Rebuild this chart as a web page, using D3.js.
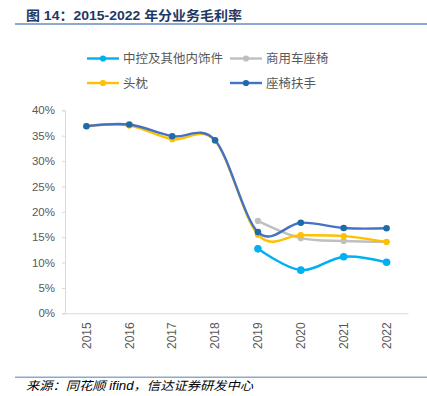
<!DOCTYPE html>
<html><head><meta charset="utf-8">
<script src="https://cdn.jsdelivr.net/npm/d3@7"></script>
<style>
html,body{margin:0;padding:0;background:#fff;}
svg{display:block;}
text{font-family:"Liberation Sans","Noto Sans CJK SC",Arial,sans-serif;}
</style></head>
<body>
<svg id="chart" width="427" height="396"></svg>
<script>
const years = ["2015","2016","2017","2018","2019","2020","2021","2022"];
const seriesNames = ["中控及其他内饰件","商用车座椅","头枕","座椅扶手"];
const interiorParts = [null,null,null,null,12.7,8.5,11.15,10.05];
const commercialSeats = [null,null,null,null,18.2,14.8,14.25,14.1];
const headrest = [36.9,37.0,34.3,34.0,15.5,15.4,15.2,14.05];
const armrest = [36.85,37.2,34.9,34.1,16.0,17.85,16.8,16.75];
const yTicks = [0,5,10,15,20,25,30,35,40];
const titleText = "图 14：2015-2022 年分业务毛利率";
const sourceText = "来源：同花顺 ifind，信达证券研发中心";

const styles = [
  {line:"#00B0F0", marker:"#00B0F0", r:3.8},
  {line:"#BFBFBF", marker:"#BFBFBF", r:3.1},
  {line:"#FFC000", marker:"#FFC000", r:3.1},
  {line:"#4472C4", marker:"#1F6BAA", r:3.3}
];
const allSeries = [interiorParts, commercialSeats, headrest, armrest];

const svg = d3.select("#chart");

// title
svg.append("text").attr("x",26).attr("y",19.5)
  .attr("font-size",13).attr("font-weight","bold").attr("fill","#1F3864")
  .attr("font-family","'Noto Sans CJK SC','Liberation Sans',sans-serif")
  .attr("textLength",216).attr("lengthAdjust","spacingAndGlyphs")
  .text(titleText);
svg.append("line").attr("x1",15).attr("x2",427).attr("y1",24).attr("y2",24)
  .attr("stroke","#8EA9D1").attr("stroke-width",2);

// scales
const x = d3.scaleBand().domain(years).range([65,408]);
const y = d3.scaleLinear().domain([0,40]).range([313.3,110.3]);
const cx = d => x(d) + x.bandwidth()/2;

// y axis
const yAxis = d3.axisLeft(y).tickValues(yTicks).tickFormat(d=>d+"%").tickSize(3).tickPadding(7);
const gy = svg.append("g").attr("transform","translate(65,0)").call(yAxis);
gy.select(".domain").attr("stroke","#D9D9D9");
gy.selectAll(".tick line").attr("stroke","#D9D9D9");
gy.selectAll(".tick text").attr("fill","#595959").attr("font-size",11.5)
  .attr("font-family","'Liberation Sans',Arial,sans-serif");

// x axis
const xAxis = d3.axisBottom(x).tickSize(0).tickPadding(0);
const gx = svg.append("g").attr("transform","translate(0,313.3)").call(xAxis);
gx.select(".domain").attr("stroke","#D9D9D9");
gx.selectAll(".tick text").attr("fill","#595959").attr("font-size",12)
  .attr("font-family","'Liberation Sans',Arial,sans-serif")
  .attr("transform","rotate(-90)").attr("text-anchor","end")
  .attr("x",-9).attr("y",0).attr("dy","0.35em");

// lines
const line = d3.line().defined(d=>d.v!==null).x(d=>cx(d.year)).y(d=>y(d.v))
  .curve(d3.curveCardinal.tension(0));
allSeries.forEach((vals,i)=>{
  const data = years.map((yr,j)=>({year:yr,v:vals[j]}));
  const defined = data.filter(d=>d.v!==null);
  svg.append("path").datum(defined).attr("d",line)
    .attr("fill","none").attr("stroke",styles[i].line).attr("stroke-width",2.4)
    .attr("stroke-linejoin","round").attr("stroke-linecap","round");
  svg.selectAll(null).data(defined).enter().append("circle")
    .attr("cx",d=>cx(d.year)).attr("cy",d=>y(d.v)).attr("r",styles[i].r)
    .attr("fill",styles[i].marker);
});

// legend
const legendPos = [
  {lx:87, ty:58.5},
  {lx:230, ty:58.5},
  {lx:87, ty:83},
  {lx:230, ty:83}
];
seriesNames.forEach((name,i)=>{
  const p = legendPos[i];
  const g = svg.append("g");
  g.append("line").attr("x1",p.lx).attr("x2",p.lx+32).attr("y1",p.ty).attr("y2",p.ty)
    .attr("stroke",styles[i].line).attr("stroke-width",2.4);
  g.append("circle").attr("cx",p.lx+16).attr("cy",p.ty).attr("r",3.1).attr("fill",styles[i].marker);
  g.append("text").attr("x",p.lx+36).attr("y",p.ty).attr("dy","0.36em")
    .attr("font-size",12.5).attr("fill","#595959")
    .attr("font-family","'Noto Sans CJK SC',sans-serif")
    .text(name);
});

// source
svg.append("line").attr("x1",15).attr("x2",427).attr("y1",377.3).attr("y2",377.3)
  .attr("stroke","#8EA9D1").attr("stroke-width",1.5);
svg.append("text").attr("x",26).attr("y",389.5)
  .attr("font-size",12).attr("font-style","italic").attr("fill","#000")
  .attr("font-family","'Noto Sans CJK SC',sans-serif")
  .attr("textLength",227).attr("lengthAdjust","spacingAndGlyphs")
  .text(sourceText);
</script>
</body></html>
